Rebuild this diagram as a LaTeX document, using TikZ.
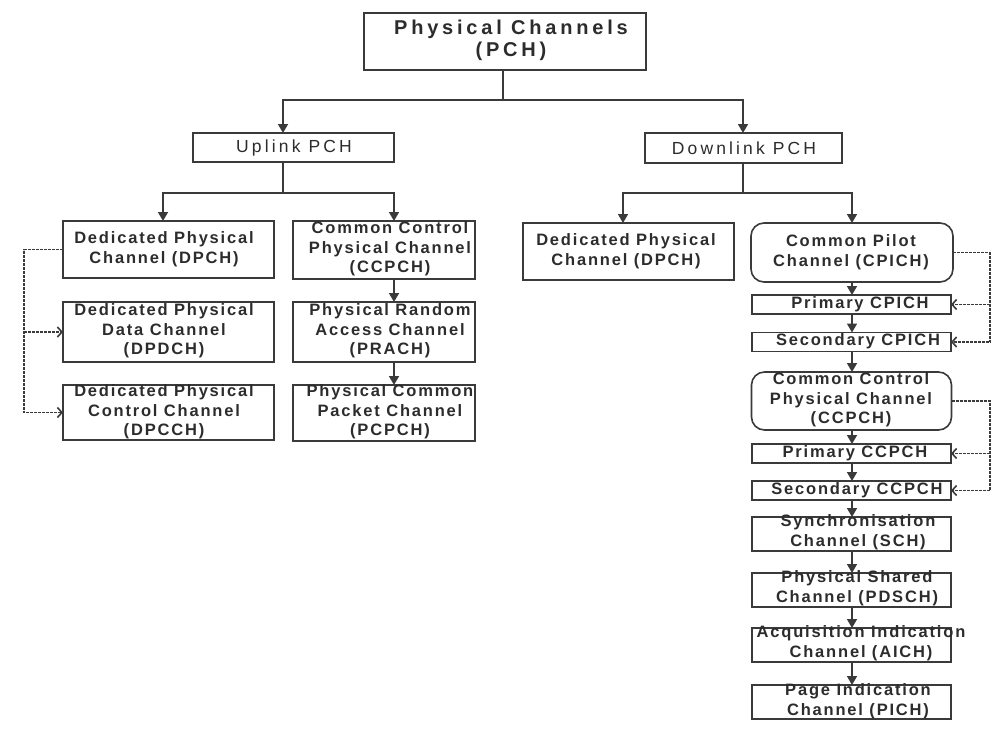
\documentclass[tikz,border=0pt]{standalone}
\usepackage{fontspec}
\setmainfont{Liberation Sans}
\newfontfamily\chanfont{Liberation Sans}[LetterSpace=11]
\newfontfamily\linkfont{Liberation Sans}[LetterSpace=18]
\newfontfamily\titlefont{Liberation Sans}[LetterSpace=19]
\usetikzlibrary{arrows.meta}
\definecolor{inkgray}{HTML}{3A3A3A}
\definecolor{textgray}{HTML}{2C2C2C}

\begin{document}
\begin{tikzpicture}[x=1pt,y=-1pt,
  ink/.style={draw=inkgray, line width=1.6pt},
  chanbox/.style={ink, rectangle, inner sep=0pt, outer sep=0pt},
  pilotbox/.style={chanbox, rounded corners=13pt},
  chantext/.style={inner sep=0pt, align=center, text=textgray,
    font=\chanfont\bfseries\fontsize{16.5}{19.5}\selectfont},
  linktext/.style={inner sep=0pt, align=center, text=textgray,
    font=\linkfont\fontsize{17.5}{20}\selectfont},
  titletext/.style={inner sep=0pt, align=center, text=textgray,
    font=\titlefont\bfseries\fontsize{20}{22}\selectfont},
  flow/.style={ink, -{Triangle[width=10pt,length=9pt]}},
  tapline/.style={draw=inkgray, line width=1.9pt, dash pattern=on 3pt off 1pt},
  tap/.style={tapline, -{Straight Barb[length=4.5pt,width=10pt,line width=1.6pt]}},
]
\useasboundingbox (0,0) rectangle (1001,734);

% ---------- root and the two directions ----------
\node[chanbox, minimum width=282pt, minimum height=57pt] (pch) at (505,41.5) {};
\node[titletext] (pchT) at (511,40) {Physical Channels\\(PCH)};

\node[chanbox, minimum width=201pt, minimum height=29pt] (uplink) at (293.5,147.5) {};
\node[linktext] (uplinkT) at (294,147.5) {Uplink PCH};
\node[chanbox, minimum width=197pt, minimum height=30pt] (downlink) at (743.5,148) {};
\node[linktext] (downlinkT) at (744,148) {Downlink PCH};

% ---------- uplink channels ----------
\node[chanbox, minimum width=211pt, minimum height=57pt] (ulDpch) at (168.5,249.5) {};
\node[chantext] (ulDpchT) at (164,249) {Dedicated Physical\\Channel (DPCH)};
\node[chanbox, minimum width=211pt, minimum height=60pt] (ulDpdch) at (168.5,332) {};
\node[chantext] (ulDpdchT) at (164,331) {Dedicated Physical\\Data Channel\\(DPDCH)};
\node[chanbox, minimum width=211pt, minimum height=55pt] (ulDpcch) at (168.5,412.5) {};
\node[chantext] (ulDpcchT) at (164,412) {Dedicated Physical\\Control Channel\\(DPCCH)};

\node[chanbox, minimum width=182pt, minimum height=58pt] (ulCcpch) at (384,250) {};
\node[chantext] (ulCcpchT) at (390,249) {Common Control\\Physical Channel\\(CCPCH)};
\node[chanbox, minimum width=182pt, minimum height=60pt] (prach) at (384,332) {};
\node[chantext] (prachT) at (390,331) {Physical Random\\Access Channel\\(PRACH)};
\node[chanbox, minimum width=182pt, minimum height=56pt] (pcpch) at (384,413) {};
\node[chantext] (pcpchT) at (390,412) {Physical Common\\Packet Channel\\(PCPCH)};

% ---------- downlink channels ----------
\node[chanbox, minimum width=211pt, minimum height=57pt] (dlDpch) at (628.5,251.5) {};
\node[chantext] (dlDpchT) at (626,251) {Dedicated Physical\\Channel (DPCH)};

\node[pilotbox, minimum width=202pt, minimum height=59pt] (cpich) at (852,252.5) {};
\node[chantext] (cpichT) at (851,252) {Common Pilot\\Channel (CPICH)};
\node[chanbox, minimum width=199pt, minimum height=19pt] (pcpich) at (851.5,304.5) {};
\node[chantext] (pcpichT) at (860,304) {Primary CPICH};
\node[chanbox, minimum width=199pt, minimum height=19pt] (scpich) at (851.5,342) {};
\node[chantext] (scpichT) at (858,341.5) {Secondary CPICH};

\node[pilotbox, minimum width=200pt, minimum height=58pt] (dlCcpch) at (851.5,401) {};
\node[chantext] (dlCcpchT) at (851,400) {Common Control\\Physical Channel\\(CCPCH)};
\node[chanbox, minimum width=199pt, minimum height=19pt] (pccpch) at (851.5,453.5) {};
\node[chantext] (pccpchT) at (855,453) {Primary CCPCH};
\node[chanbox, minimum width=199pt, minimum height=19pt] (sccpch) at (851.5,490.5) {};
\node[chantext] (sccpchT) at (857,490) {Secondary CCPCH};

\node[chanbox, minimum width=199pt, minimum height=34pt] (sch) at (851.5,534) {};
\node[chantext] (schT) at (858,532) {Synchronisation\\Channel (SCH)};
\node[chanbox, minimum width=199pt, minimum height=34pt] (pdsch) at (851.5,590) {};
\node[chantext] (pdschT) at (857,588) {Physical Shared\\Channel (PDSCH)};
\node[chanbox, minimum width=199pt, minimum height=34pt] (aich) at (851.5,645) {};
\node[chantext] (aichT) at (861,643) {Acquisition Indication\\Channel (AICH)};
\node[chanbox, minimum width=199pt, minimum height=34pt] (pich) at (851.5,702) {};
\node[chantext] (pichT) at (858,701) {Page Indication\\Channel (PICH)};

% ---------- tree connectors ----------
\coordinate (pchFork) at (503,100);
\coordinate (ulFork) at (283,193);
\coordinate (ulLeft) at (163,193);
\coordinate (ulMid) at (394,193);
\coordinate (dlFork) at (743,193);
\coordinate (dlLeft) at (623,193);
\coordinate (dlRight) at (852,193);

\draw[ink] (pch.south -| pchFork) -- (pchFork);
\draw[flow] (pchFork) -| (uplink.north -| ulFork);
\draw[flow] (pchFork) -| (downlink.north -| dlFork);

\draw[ink] (uplink.south -| ulFork) -- (ulFork);
\draw[flow] (ulFork) -- (ulLeft) -- (ulLeft |- ulDpch.north);
\draw[flow] (ulFork) -- (ulMid) -- (ulMid |- ulCcpch.north);
\draw[flow] (ulCcpch.south -| ulMid) -- (prach.north -| ulMid);
\draw[flow] (prach.south -| ulMid) -- (pcpch.north -| ulMid);

\draw[ink] (downlink.south -| dlFork) -- (dlFork);
\draw[flow] (dlFork) -- (dlLeft) -- (dlLeft |- dlDpch.north);
\draw[flow] (dlFork) -- (dlRight) -- (dlRight |- cpich.north);
\draw[flow] (cpich.south -| dlRight) -- (pcpich.north -| dlRight);
\draw[flow] (pcpich.south -| dlRight) -- (scpich.north -| dlRight);
\draw[flow] (scpich.south -| dlRight) -- (dlCcpch.north -| dlRight);
\draw[flow] (dlCcpch.south -| dlRight) -- (pccpch.north -| dlRight);
\draw[flow] (pccpch.south -| dlRight) -- (sccpch.north -| dlRight);
\draw[flow] (sccpch.south -| dlRight) -- (sch.north -| dlRight);
\draw[flow] (sch.south -| dlRight) -- (pdsch.north -| dlRight);
\draw[flow] (pdsch.south -| dlRight) -- (aich.north -| dlRight);
\draw[flow] (aich.south -| dlRight) -- (pich.north -| dlRight);

% ---------- dotted sub-channel brackets ----------
\coordinate (lAxis) at (24,0);
\coordinate (rAxis) at (990,0);

\draw[tap] (ulDpch.west) -- (ulDpch.west -| lAxis) -- (ulDpcch.west -| lAxis) -- (ulDpcch.west);
\draw[tap] (ulDpdch.west -| lAxis) -- (ulDpdch.west);

\draw[tap] (cpich.east) -- (cpich.east -| rAxis) -- (scpich.east -| rAxis) -- (scpich.east);
\draw[tap] (pcpich.east -| rAxis) -- (pcpich.east);

\draw[tap] (dlCcpch.east) -- (dlCcpch.east -| rAxis) -- (sccpch.east -| rAxis) -- (sccpch.east);
\draw[tap] (pccpch.east -| rAxis) -- (pccpch.east);
\end{tikzpicture}
\end{document}
